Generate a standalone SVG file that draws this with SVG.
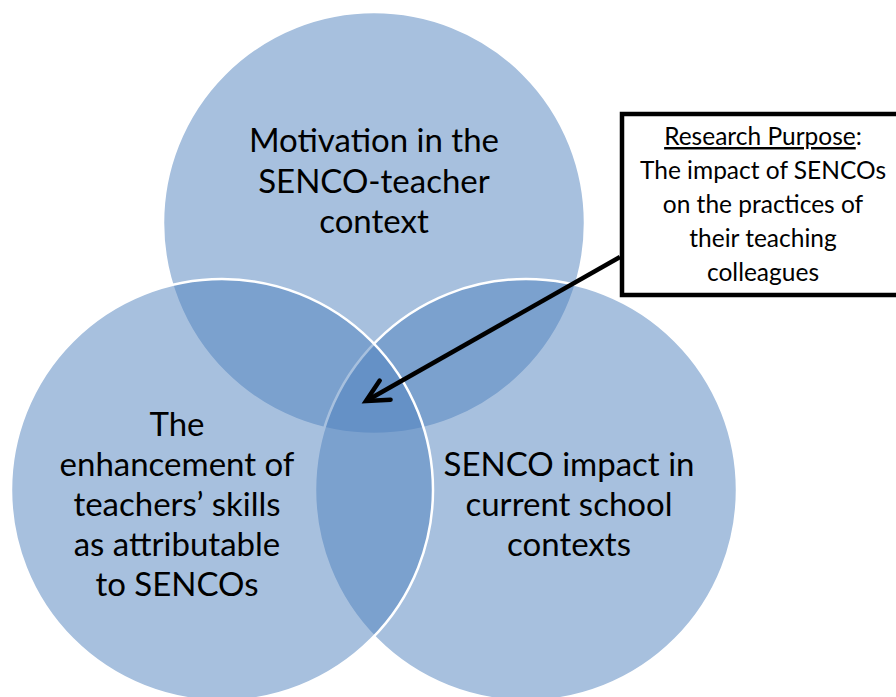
<svg xmlns="http://www.w3.org/2000/svg" width="896" height="697" viewBox="0 0 896 697">
<style>
.c{fill:#4F81BD;fill-opacity:0.5;stroke:#fff;stroke-width:2.5}
.t{font-family:Lato,"Open Sans",sans-serif;font-size:33px;fill:#000;text-anchor:middle}
.b{font-family:Lato,"Open Sans",sans-serif;font-size:24.5px;fill:#000;text-anchor:middle}
</style>
<defs>
<marker id="ah" markerUnits="userSpaceOnUse" viewBox="-30 -16 34 32" markerWidth="34" markerHeight="32" refX="0" refY="0" orient="auto" overflow="visible">
<path d="M-22,-11 L0,0 L-22,11" fill="none" stroke="#000" stroke-width="4.5" stroke-linecap="round" stroke-linejoin="miter"/>
</marker>
</defs>
<rect width="896" height="697" fill="#fff"/>
<g id="top-circle">
<circle class="c" cx="374" cy="223" r="211"/>
</g>
<g id="right-circle">
<circle class="c" cx="526" cy="490" r="211"/>
</g>
<g id="left-circle">
<circle class="c" cx="222" cy="490" r="211"/>
</g>
<g id="top-label">
<text class="t" x="374" y="152">Motivation in the</text>
<text class="t" x="374" y="193">SENCO-teacher</text>
<text class="t" x="374" y="233">context</text>
</g>
<g id="left-label">
<text class="t" x="177" y="436">The</text>
<text class="t" x="177" y="476">enhancement of</text>
<text class="t" x="177" y="516">teachers’ skills</text>
<text class="t" x="177" y="556">as attributable</text>
<text class="t" x="177" y="596">to SENCOs</text>
</g>
<g id="right-label">
<text class="t" x="569" y="476">SENCO impact in</text>
<text class="t" x="569" y="516">current school</text>
<text class="t" x="569" y="556">contexts</text>
</g>
<g id="purpose-box">
<rect x="622" y="114" width="300" height="181" fill="#fff" stroke="#000" stroke-width="4.5"/>
<text class="b" x="763" y="145"><tspan text-decoration="underline">Research Purpose</tspan>:</text>
<text class="b" x="763" y="179">The impact of SENCOs</text>
<text class="b" x="763" y="213">on the practices of</text>
<text class="b" x="763" y="247">their teaching</text>
<text class="b" x="763" y="281">colleagues</text>
</g>
<g id="connectors">
<line x1="620" y1="257" x2="366" y2="401" stroke="#000" stroke-width="4.5" marker-end="url(#ah)"/>
</g>
</svg>
